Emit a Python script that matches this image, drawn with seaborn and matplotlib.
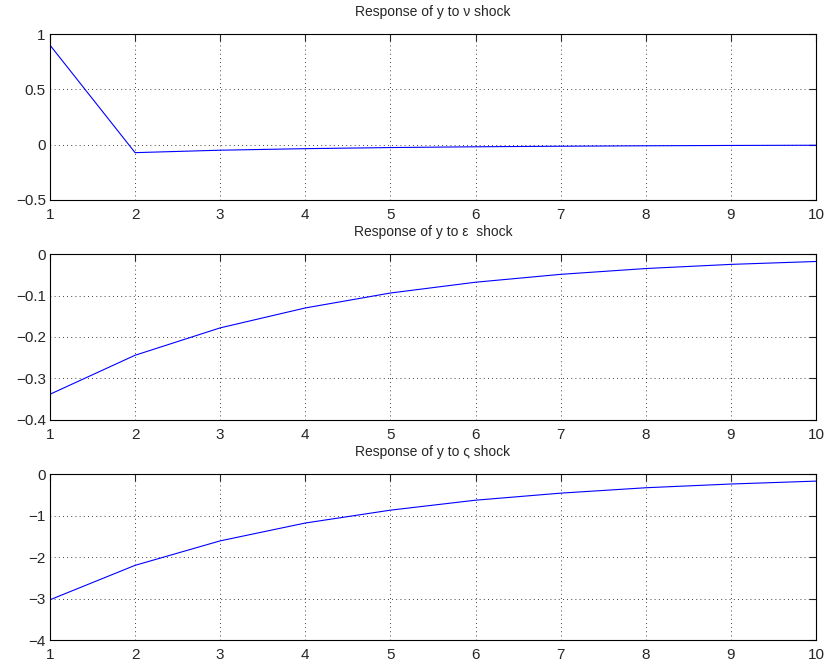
import numpy as np
import pandas as pd
import seaborn as sns
import matplotlib
matplotlib.use("Agg")
import matplotlib.pyplot as plt

periods = [1, 2, 3, 4, 5, 6, 7, 8, 9, 10]
resp_nu = [0.90, -0.072, -0.050, -0.036, -0.026, -0.019, -0.014, -0.010, -0.007, -0.005]
resp_eps = [-0.338, -0.244, -0.178, -0.130, -0.094, -0.068, -0.049, -0.035, -0.025, -0.018]
resp_vs = [-3.03, -2.20, -1.61, -1.18, -0.87, -0.63, -0.46, -0.33, -0.24, -0.17]

titles = ["Response of y to \u03bd shock",
          "Response of y to \u03b5  shock",
          "Response of y to \u03c2 shock"]
ylims = [(-0.5, 1), (-0.4, 0), (-4, 0)]
yticks = [[-0.5, 0, 0.5, 1],
          [-0.4, -0.3, -0.2, -0.1, 0],
          [-4, -3, -2, -1, 0]]
yticklabels = [["\u22120.5", "0", "0.5", "1"],
               ["\u22120.4", "\u22120.3", "\u22120.2", "\u22120.1", "0"],
               ["\u22124", "\u22123", "\u22122", "\u22121", "0"]]

sns.set_style("white")
plt.rcParams['font.family'] = ['Liberation Sans', 'DejaVu Sans']
plt.rcParams['font.size'] = 10

fig = plt.figure(figsize=(8.3, 6.66), dpi=100)
# matlab-like subplot boxes (left, bottom, width, height)
boxes = [(0.0602, 0.6997, 0.9229, 0.2492),
         (0.0602, 0.3694, 0.9229, 0.2492),
         (0.0602, 0.0390, 0.9229, 0.2492)]

for i, resp in enumerate([resp_nu, resp_eps, resp_vs]):
    ax = fig.add_axes(boxes[i])
    df = pd.DataFrame({"t": periods, "r": resp})
    sns.lineplot(data=df, x="t", y="r", ax=ax, color="blue", linewidth=0.8)
    ax.set_xlim(1, 10)
    ax.set_ylim(*ylims[i])
    ax.set_xticks(periods)
    ax.set_yticks(yticks[i])
    ax.set_yticklabels(yticklabels[i])
    ax.set_xlabel("")
    ax.set_ylabel("")
    ax.set_title(titles[i], fontsize=10, pad=13)
    ax.grid(True, color="black", linestyle=(0, (1, 4)), linewidth=0.6)
    ax.tick_params(direction="in", length=5, width=0.8, labelsize=11,
                   top=True, right=True, pad=3)
    ax.tick_params(axis="x", pad=6)
    for s in ax.spines.values():
        s.set_color("black")
        s.set_linewidth(0.8)

fig.savefig("out.png", dpi=100)
